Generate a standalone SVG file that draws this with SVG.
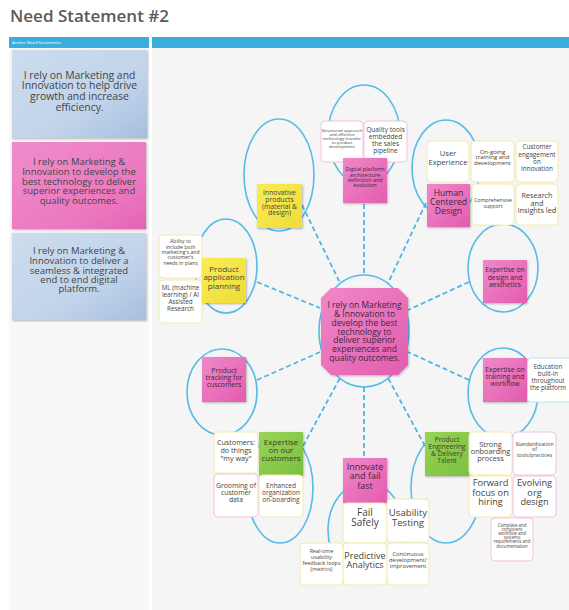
<svg xmlns="http://www.w3.org/2000/svg" width="569" height="610" viewBox="0 0 569 610">
<defs>
<linearGradient id="gPink" x1="0" y1="0" x2="1" y2="1"><stop offset="0" stop-color="#f088c9"/><stop offset="1" stop-color="#e35caf"/></linearGradient>
<linearGradient id="gYel" x1="0" y1="0" x2="1" y2="1"><stop offset="0" stop-color="#f8ec55"/><stop offset="1" stop-color="#f0dc38"/></linearGradient>
<linearGradient id="gGrn" x1="0" y1="0" x2="1" y2="1"><stop offset="0" stop-color="#98d456"/><stop offset="1" stop-color="#7cbf40"/></linearGradient>
<linearGradient id="gBlue" x1="0" y1="0" x2="1" y2="1"><stop offset="0" stop-color="#cddcee"/><stop offset="0.6" stop-color="#c2d4ea"/><stop offset="1" stop-color="#a6bfdf"/></linearGradient>
<linearGradient id="gPinkL" x1="0" y1="0" x2="1" y2="1"><stop offset="0" stop-color="#f08ccb"/><stop offset="0.7" stop-color="#eb78bf"/><stop offset="1" stop-color="#e463b4"/></linearGradient>
<filter id="sh" x="-20%" y="-20%" width="140%" height="140%"><feDropShadow dx="0.8" dy="1" stdDeviation="0.8" flood-color="#000" flood-opacity="0.28"/></filter>
</defs>
<style>
.t{font-family:"Open Sans","Liberation Sans",sans-serif;fill:#444;text-anchor:middle}
.tp{font-family:"Open Sans","Liberation Sans",sans-serif;fill:#3d2638;text-anchor:middle}
.tg{font-family:"Open Sans","Liberation Sans",sans-serif;fill:#34412a;text-anchor:middle}
.ring{fill:none;stroke:#56bbe6;stroke-width:1.6}
.conn line{stroke:#4fb5e2;stroke-width:1.8;stroke-dasharray:5 3}
.card{fill:#fff;stroke-width:1}
.cy{stroke:#f3eaae}
.cp{stroke:#f4c2de}
.cb{stroke:#bfe0f2}
.np{fill:url(#gPink);filter:url(#sh)}
.ny{fill:url(#gYel);filter:url(#sh)}
.ng{fill:url(#gGrn);filter:url(#sh)}
</style>
<rect x="0" y="0" width="569" height="610" fill="#ffffff"/>
<rect x="9" y="48" width="140" height="562" fill="#f8f8f8"/>
<rect x="152" y="48" width="417" height="562" fill="#f5f5f5"/>
<text x="10" y="22" font-family="'Open Sans','Liberation Sans',sans-serif" font-size="17" font-weight="600" fill="#5a5a5a">Need Statement #2</text>
<rect x="9" y="37" width="140" height="11" fill="#3aaddc"/>
<rect x="152" y="37" width="417" height="11" fill="#3aaddc"/>
<text x="12" y="44.3" font-family="'Open Sans','Liberation Sans',sans-serif" font-size="4.2" fill="#ffffff">Anchor Need Statements</text>

<g id="anchor-1">
<rect x="12" y="50" width="135" height="88" fill="url(#gBlue)" filter="url(#sh)"/>
<text class="t" font-size="10.4"><tspan x="79.5" y="78.7">I rely on Marketing and</tspan><tspan x="79.5" y="89.4">Innovation to help drive</tspan><tspan x="79.5" y="100.1">growth and increase</tspan><tspan x="79.5" y="110.8">efficiency.</tspan></text>
</g>
<g id="anchor-2">
<rect x="12" y="142" width="134" height="87" fill="url(#gPinkL)" filter="url(#sh)"/>
<text class="t" font-size="9.5"><tspan x="79" y="165.4">I rely on Marketing &amp;</tspan><tspan x="79" y="175">Innovation to develop the</tspan><tspan x="79" y="184.5">best technology to deliver</tspan><tspan x="79" y="194">superior experiences and</tspan><tspan x="79" y="203.5">quality outcomes.</tspan></text>
</g>
<g id="anchor-3">
<rect x="12" y="233" width="134" height="87" fill="url(#gBlue)" filter="url(#sh)"/>
<text class="t" font-size="9.5"><tspan x="79" y="254.4">I rely on Marketing &amp;</tspan><tspan x="79" y="264">Innovation to deliver a</tspan><tspan x="79" y="273.5">seamless &amp; integrated</tspan><tspan x="79" y="283">end to end digital</tspan><tspan x="79" y="292.4">platform.</tspan></text>
</g>

<g id="rings">
<ellipse class="ring" cx="364" cy="135" rx="36" ry="50"/>
<ellipse class="ring" cx="279" cy="175" rx="35" ry="56"/>
<ellipse class="ring" cx="446" cy="168" rx="34" ry="48"/>
<ellipse class="ring" cx="503" cy="268" rx="35" ry="44"/>
<ellipse class="ring" cx="226" cy="266" rx="31" ry="47"/>
<ellipse class="ring" cx="364" cy="331" rx="45" ry="56"/>
<ellipse class="ring" cx="503" cy="393" rx="35" ry="45"/>
<ellipse class="ring" cx="222" cy="392" rx="35" ry="43"/>
<ellipse class="ring" cx="446" cy="488" rx="35" ry="55"/>
<ellipse class="ring" cx="280" cy="488" rx="33" ry="55"/>
<ellipse class="ring" cx="366" cy="530" rx="38" ry="48"/>
</g>

<g id="connectors" class="conn">
<line x1="364" y1="204" x2="364" y2="275"/>
<line x1="302" y1="205" x2="340" y2="283"/>
<line x1="426" y1="203" x2="388" y2="283"/>
<line x1="469" y1="282" x2="408" y2="310"/>
<line x1="469" y1="380" x2="408" y2="352"/>
<line x1="425" y1="446" x2="388" y2="378"/>
<line x1="364" y1="387" x2="364" y2="458"/>
<line x1="303" y1="446" x2="340" y2="378"/>
<line x1="257" y1="380" x2="320" y2="352"/>
<line x1="257" y1="282" x2="320" y2="308"/>
</g>

<g id="center">
<polygon points="331,288 398,288 408,298 408,365 398,375 331,375 321,365 321,298" fill="url(#gPink)" filter="url(#sh)"/>
<text class="tp" font-size="8.5"><tspan x="364.5" y="308.1">I rely on Marketing</tspan><tspan x="364.5" y="316.9">&amp; Innovation to</tspan><tspan x="364.5" y="325.7">develop the best</tspan><tspan x="364.5" y="334.5">technology to</tspan><tspan x="364.5" y="343.3">deliver superior</tspan><tspan x="364.5" y="352.1">experiences and</tspan><tspan x="364.5" y="360.9">quality outcomes.</tspan></text>
</g>

<g id="digital-platform">
<rect class="card cp" x="321" y="121" width="42" height="41" rx="4"/>
<text class="t" font-size="4.2"><tspan x="342" y="131.5">Structured approach</tspan><tspan x="342" y="135.5">and effective</tspan><tspan x="342" y="139.5">technology transfer</tspan><tspan x="342" y="143.5">to product</tspan><tspan x="342" y="147.5">development</tspan></text>
<rect class="card cp" x="364" y="121" width="43" height="41" rx="4"/>
<text class="t" font-size="6.6"><tspan x="385.5" y="132.4">Quality tools</tspan><tspan x="385.5" y="139.4">embedded</tspan><tspan x="385.5" y="145.9">the sales</tspan><tspan x="385.5" y="152.9">pipeline</tspan></text>
<rect class="np" x="343" y="158" width="44" height="45"/>
<text class="tp" font-size="5.4"><tspan x="365" y="171.4">Digital platform</tspan><tspan x="365" y="176.7">architecture</tspan><tspan x="365" y="182">definition and</tspan><tspan x="365" y="187.3">evolution</tspan></text>
</g>

<g id="innovative-products">
<rect class="ny" x="257" y="184" width="45" height="44"/>
<text class="t" font-size="6.8"><tspan x="279.5" y="195.2">Innovative</tspan><tspan x="279.5" y="201.9">products</tspan><tspan x="279.5" y="208.6">(material &amp;</tspan><tspan x="279.5" y="215.3">design)</tspan></text>
</g>

<g id="human-centered-design">
<rect class="card cy" x="427" y="141" width="42" height="41" rx="4"/>
<text class="t" font-size="7.6"><tspan x="448" y="155.7">User</tspan><tspan x="448" y="164.7">Experience</tspan></text>
<rect class="card cy" x="471" y="141" width="43" height="41" rx="4"/>
<text class="t" font-size="6"><tspan x="492.5" y="153.7">On-going</tspan><tspan x="492.5" y="159.2">training and</tspan><tspan x="492.5" y="164.7">development</tspan></text>
<rect class="card cy" x="516" y="141" width="42" height="41" rx="4"/>
<text class="t" font-size="6.4"><tspan x="537" y="149.4">Customer</tspan><tspan x="537" y="156.7">engagement</tspan><tspan x="537" y="164">on</tspan><tspan x="537" y="171.3">Innovation</tspan></text>
<rect class="np" x="427" y="184" width="43" height="43"/>
<text class="tp" font-size="8.6"><tspan x="448.5" y="196.1">Human</tspan><tspan x="448.5" y="205.1">Centered</tspan><tspan x="448.5" y="214.1">Design</tspan></text>
<rect class="card cy" x="472" y="184" width="42" height="41" rx="4"/>
<text class="t" font-size="5.2"><tspan x="493" y="201.9">Comprehensive</tspan><tspan x="493" y="207.6">support</tspan></text>
<rect class="card cy" x="516" y="184" width="42" height="41" rx="4"/>
<text class="t" font-size="7.3"><tspan x="537" y="198">Research</tspan><tspan x="537" y="205.6">and</tspan><tspan x="537" y="213.2">insights led</tspan></text>
</g>

<g id="design-aesthetics">
<rect class="np" x="483" y="260" width="44" height="43"/>
<text class="tp" font-size="6.8"><tspan x="505" y="272.2">Expertise on</tspan><tspan x="505" y="279.7">design and</tspan><tspan x="505" y="287.2">aesthetics</tspan></text>
</g>

<g id="product-application">
<rect class="card cy" x="159" y="235" width="43" height="43" rx="4"/>
<text class="t" font-size="5.1"><tspan x="180.5" y="243.4">Ability to</tspan><tspan x="180.5" y="248.7">include both</tspan><tspan x="180.5" y="254">marketing's and</tspan><tspan x="180.5" y="259.3">customer's</tspan><tspan x="180.5" y="264.6">needs in plans</tspan></text>
<rect class="card cy" x="159" y="280" width="43" height="43" rx="4"/>
<text class="t" font-size="6.3"><tspan x="180.5" y="289.8">ML (machine</tspan><tspan x="180.5" y="296.8">learning) / AI</tspan><tspan x="180.5" y="303.8">Assisted</tspan><tspan x="180.5" y="310.8">Research</tspan></text>
<rect class="ny" x="202" y="258" width="44" height="45"/>
<text class="t" font-size="8"><tspan x="224" y="271.9">Product</tspan><tspan x="224" y="280.4">application</tspan><tspan x="224" y="288.9">planning</tspan></text>
</g>

<g id="training-workflow">
<rect class="np" x="483" y="358" width="44" height="44"/>
<text class="tp" font-size="6.8"><tspan x="505" y="372.4">Expertise on</tspan><tspan x="505" y="379.4">training and</tspan><tspan x="505" y="386.4">workflow</tspan></text>
<rect class="card cb" x="527.5" y="358" width="46" height="44" rx="4"/>
<text class="t" font-size="6.2"><tspan x="548" y="369.3">Education</tspan><tspan x="548" y="376.3">built-in</tspan><tspan x="548" y="383.3">throughout</tspan><tspan x="548" y="390">the platform</tspan></text>
</g>

<g id="product-tracking">
<rect class="np" x="202" y="357" width="44" height="45"/>
<text class="tp" font-size="6.9"><tspan x="224" y="372.5">Product</tspan><tspan x="224" y="379.5">tracking for</tspan><tspan x="224" y="386.5">cuscomers</tspan></text>
</g>

<g id="product-engineering">
<rect class="ng" x="425" y="432" width="44" height="44"/>
<text class="tg" font-size="6.7"><tspan x="447" y="442.4">Product</tspan><tspan x="447" y="449.4">Engineering</tspan><tspan x="447" y="456.4">&amp; Delivery</tspan><tspan x="447" y="463.4">Talent</tspan></text>
<rect class="card cy" x="469" y="432" width="43" height="43" rx="4"/>
<text class="t" font-size="7.3"><tspan x="490.5" y="446.6">Strong</tspan><tspan x="490.5" y="453.9">onboarding</tspan><tspan x="490.5" y="461.2">process</tspan></text>
<rect class="card cp" x="513" y="432" width="43" height="43" rx="4"/>
<text class="t" font-size="5.2"><tspan x="534.5" y="445.9">Standardization</tspan><tspan x="534.5" y="451.4">of</tspan><tspan x="534.5" y="456.9">tools/practices</tspan></text>
<rect class="card cy" x="469" y="476" width="43" height="41" rx="4"/>
<text class="t" font-size="9.2"><tspan x="490.5" y="486.3">Forward</tspan><tspan x="490.5" y="495.8">focus on</tspan><tspan x="490.5" y="505.3">hiring</tspan></text>
<rect class="card cp" x="513" y="476" width="43" height="41" rx="4"/>
<text class="t" font-size="9.2"><tspan x="534.5" y="486.3">Evolving</tspan><tspan x="534.5" y="495.8">org</tspan><tspan x="534.5" y="505.3">design</tspan></text>
<rect class="card cp" x="491" y="518" width="42" height="43" rx="4"/>
<text class="t" font-size="4.4"><tspan x="512" y="526.6">Complete and</tspan><tspan x="512" y="530.8">consistent</tspan><tspan x="512" y="535">workflow and</tspan><tspan x="512" y="539.2">systems</tspan><tspan x="512" y="543.4">requirements and</tspan><tspan x="512" y="547.6">documentation</tspan></text>
</g>

<g id="innovate-fail-fast">
<rect class="np" x="343" y="458" width="44" height="45"/>
<text class="tp" font-size="9"><tspan x="365" y="470.2">Innovate</tspan><tspan x="365" y="479.2">and fail</tspan><tspan x="365" y="488.5">fast</tspan></text>
<rect class="card cy" x="343" y="503" width="44" height="40" rx="4"/>
<text class="t" font-size="10"><tspan x="365" y="515.6">Fail</tspan><tspan x="365" y="525.6">Safely</tspan></text>
<rect class="card cy" x="387" y="499" width="42" height="43" rx="4"/>
<text class="t" font-size="9.6"><tspan x="408" y="515.5">Usability</tspan><tspan x="408" y="525.5">Testing</tspan></text>
<rect class="card cy" x="300" y="543" width="43" height="42" rx="4"/>
<text class="t" font-size="5.4"><tspan x="321.5" y="552.9">Real-time</tspan><tspan x="321.5" y="558.9">usability</tspan><tspan x="321.5" y="564.9">feedback loops</tspan><tspan x="321.5" y="570.9">(metrics)</tspan></text>
<rect class="card cy" x="343" y="543" width="44" height="42" rx="4"/>
<text class="t" font-size="9"><tspan x="365" y="559.2">Predictive</tspan><tspan x="365" y="568.2">Analytics</tspan></text>
<rect class="card cy" x="387" y="543" width="42" height="42" rx="4"/>
<text class="t" font-size="5.8"><tspan x="408" y="556.1">Continuous</tspan><tspan x="408" y="562.1">development/</tspan><tspan x="408" y="568.1">improvement</tspan></text>
</g>

<g id="our-customers">
<rect class="card cy" x="214" y="432" width="44" height="41" rx="4"/>
<text class="t" font-size="7.2"><tspan x="236" y="444.6">Customers:</tspan><tspan x="236" y="452.6">do things</tspan><tspan x="236" y="460.6">"my way"</tspan></text>
<rect class="ng" x="259" y="432" width="44" height="44"/>
<text class="tg" font-size="8"><tspan x="281" y="444.9">Expertise</tspan><tspan x="281" y="452.9">on our</tspan><tspan x="281" y="460.9">customers</tspan></text>
<rect class="card cp" x="214" y="474" width="44" height="43" rx="4"/>
<text class="t" font-size="6.8"><tspan x="236" y="488.4">Grooming of</tspan><tspan x="236" y="495.4">customer</tspan><tspan x="236" y="502.4">data</tspan></text>
<rect class="card cy" x="259" y="475" width="44" height="42" rx="4"/>
<text class="t" font-size="6.5"><tspan x="281" y="488.4">Enhanced</tspan><tspan x="281" y="495.4">organization</tspan><tspan x="281" y="502.4">on-boarding</tspan></text>
</g>
</svg>
